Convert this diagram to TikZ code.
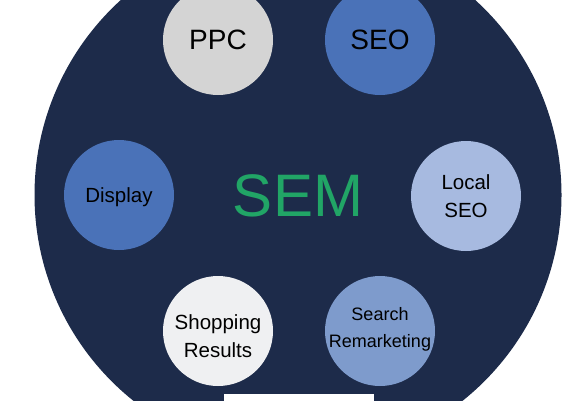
\documentclass[tikz,border=0pt]{standalone}
\usepackage{fontspec}
\setmainfont{Liberation Sans}
\definecolor{navy}{RGB}{29,43,74}
\definecolor{ppcgray}{RGB}{212,212,212}
\definecolor{midblue}{RGB}{74,114,184}
\definecolor{lightblue}{RGB}{167,186,224}
\definecolor{paleblue}{RGB}{126,155,204}
\definecolor{offwhite}{RGB}{239,240,242}
\definecolor{semgreen}{RGB}{33,165,102}
\tikzset{
  bubble/.style={circle, minimum size=110pt, inner sep=0pt, fill=#1},
  label text/.style={align=center, text=black},
}
\begin{document}
\begin{tikzpicture}[x=1pt,y=-1pt]
\useasboundingbox (0,0) rectangle (577,400);
\clip (0,0) rectangle (577,400);
\fill[navy] (298,195) circle (263.5);
\node[font=\fontsize{60}{70}\selectfont, text=semgreen] (sem) at (298,196) {SEM};
\node[bubble=ppcgray] (ppc) at (218,40) {};
\node[label text, font=\fontsize{28}{32}\selectfont] at (ppc) {PPC};
\node[bubble=midblue] (seo) at (380,40) {};
\node[label text, font=\fontsize{28}{32}\selectfont] at (seo) {SEO};
\node[bubble=midblue] (display) at (119,195) {};
\node[label text, font=\fontsize{20.5}{28}\selectfont] at ([yshift=-2pt]display) {Display};
\node[bubble=lightblue] (local) at (466,196) {};
\node[label text, font=\fontsize{20.5}{28}\selectfont] at (local) {Local\\SEO};
\node[bubble=offwhite] (shop) at (218,331) {};
\node[label text, font=\fontsize{20.5}{28}\selectfont] at ([yshift=-5pt]shop) {Shopping\\Results};
\node[bubble=paleblue] (search) at (380,331) {};
\node[label text, font=\fontsize{18}{27}\selectfont] at ([yshift=2pt]search) {Search\\Remarketing};
\fill[white] (224,394) rectangle (374,401);
\end{tikzpicture}
\end{document}
